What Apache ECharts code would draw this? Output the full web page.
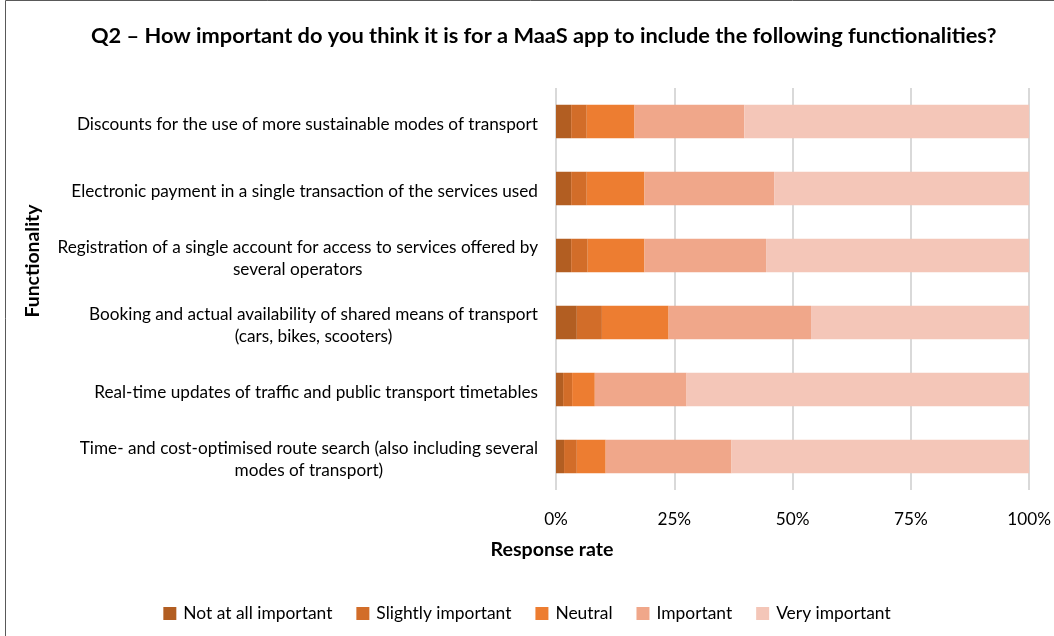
<!DOCTYPE html>
<html>
<head>
<meta charset="utf-8">
<script src="https://cdn.jsdelivr.net/npm/echarts@6/dist/echarts.min.js"></script>
<style>
  html, body { margin: 0; padding: 0; background: #ffffff; }
  #chart { width: 1054px; height: 636px; }
</style>
</head>
<body>
<div id="chart"></div>
<script>
// Functionalities, listed top to bottom
const categories = [
  'Discounts for the use of more sustainable modes of transport',
  'Electronic payment in a single transaction of the services used',
  'Registration of a single account for access to services offered by\nseveral operators',
  'Booking and actual availability of shared means of transport\n(cars, bikes, scooters)',
  'Real-time updates of traffic and public transport timetables',
  'Time- and cost-optimised route search (also including several\nmodes of transport)'
];

// Share of responses (%) per answer level
const notAtAll   = [3.2, 3.2, 3.2, 4.4, 1.5, 1.7];
const slightly   = [3.3, 3.3, 3.5, 5.3, 1.9, 2.7];
const neutral    = [10.1, 12.2, 12.0, 14.1, 4.8, 6.1];
const important  = [23.2, 27.4, 25.7, 30.1, 19.4, 26.6];
const veryImp    = [60.2, 53.9, 55.6, 46.1, 72.4, 62.9];

const seriesNames = ['Not at all important', 'Slightly important', 'Neutral', 'Important', 'Very important'];
const seriesData = [notAtAll, slightly, neutral, important, veryImp];
const seriesColors = ['#B25E22', '#D26D29', '#ED7D31', '#F0A78A', '#F4C6B8'];

const xTicks = [0, 25, 50, 75, 100];

const FONT = 'Lato, "Open Sans", sans-serif';

const chart = echarts.init(document.getElementById('chart'), null, { renderer: 'canvas' });

chart.setOption({
  backgroundColor: '#ffffff',
  animation: false,
  textStyle: { fontFamily: FONT, color: '#000000' },
  title: {
    text: 'Q2 – How important do you think it is for a MaaS app to include the following functionalities?',
    left: 86,
    top: 20,
    textStyle: { fontFamily: FONT, fontSize: 21.8, fontWeight: 'bold', color: '#000000' }
  },
  legend: {
    bottom: 9,
    left: 'center',
    itemWidth: 13,
    itemHeight: 13,
    itemGap: 24,
    icon: 'rect',
    textStyle: { fontFamily: FONT, fontSize: 17.4, color: '#000000', padding: [0, 0, 0, 2] },
    data: seriesNames
  },
  grid: { left: 556, right: 22, top: 88, bottom: 146, containLabel: false },
  xAxis: {
    type: 'value',
    min: xTicks[0],
    max: xTicks[xTicks.length - 1],
    interval: 25,
    axisLine: { show: false },
    axisTick: { show: false },
    splitLine: { show: true, lineStyle: { color: '#D9D9D9', width: 2 } },
    axisLabel: {
      margin: 21,
      fontFamily: FONT,
      fontSize: 17.2,
      color: '#000000',
      formatter: v => v + '%'
    }
  },
  yAxis: {
    type: 'category',
    inverse: true,
    data: categories,
    axisLine: { show: false },
    axisTick: { show: false },
    axisLabel: {
      margin: 18,
      fontFamily: FONT,
      fontSize: 17.2,
      color: '#000000',
      align: 'right',
      padding: [6, 0, 0, 0],
      formatter: v => v.split('\n').map(s => '{c|' + s + '}').join('\n'),
      rich: {
        c: { align: 'center', fontFamily: FONT, fontSize: 17.2, lineHeight: 22, color: '#000000' }
      }
    }
  },
  graphic: [
    {
      type: 'rect',
      silent: true,
      shape: { x: 5.5, y: 0.5, width: 1200, height: 800 },
      style: { fill: 'none', stroke: '#595959', lineWidth: 1 }
    },
    {
      type: 'text',
      x: 33,
      y: 261,
      rotation: Math.PI / 2,
      style: {
        text: 'Functionality',
        fontFamily: FONT,
        fontSize: 19.4,
        fontWeight: 'bold',
        fill: '#000000',
        align: 'center',
        verticalAlign: 'middle'
      }
    },
    {
      type: 'text',
      x: 552,
      y: 550,
      style: {
        text: 'Response rate',
        fontFamily: FONT,
        fontSize: 19.6,
        fontWeight: 'bold',
        fill: '#000000',
        align: 'center',
        verticalAlign: 'middle'
      }
    }
  ],
  series: seriesNames.map((name, i) => ({
    name: name,
    type: 'bar',
    stack: 'total',
    barCategoryGap: '50%',
    itemStyle: { color: seriesColors[i] },
    emphasis: { disabled: true },
    data: seriesData[i]
  }))
});
</script>
</body>
</html>
